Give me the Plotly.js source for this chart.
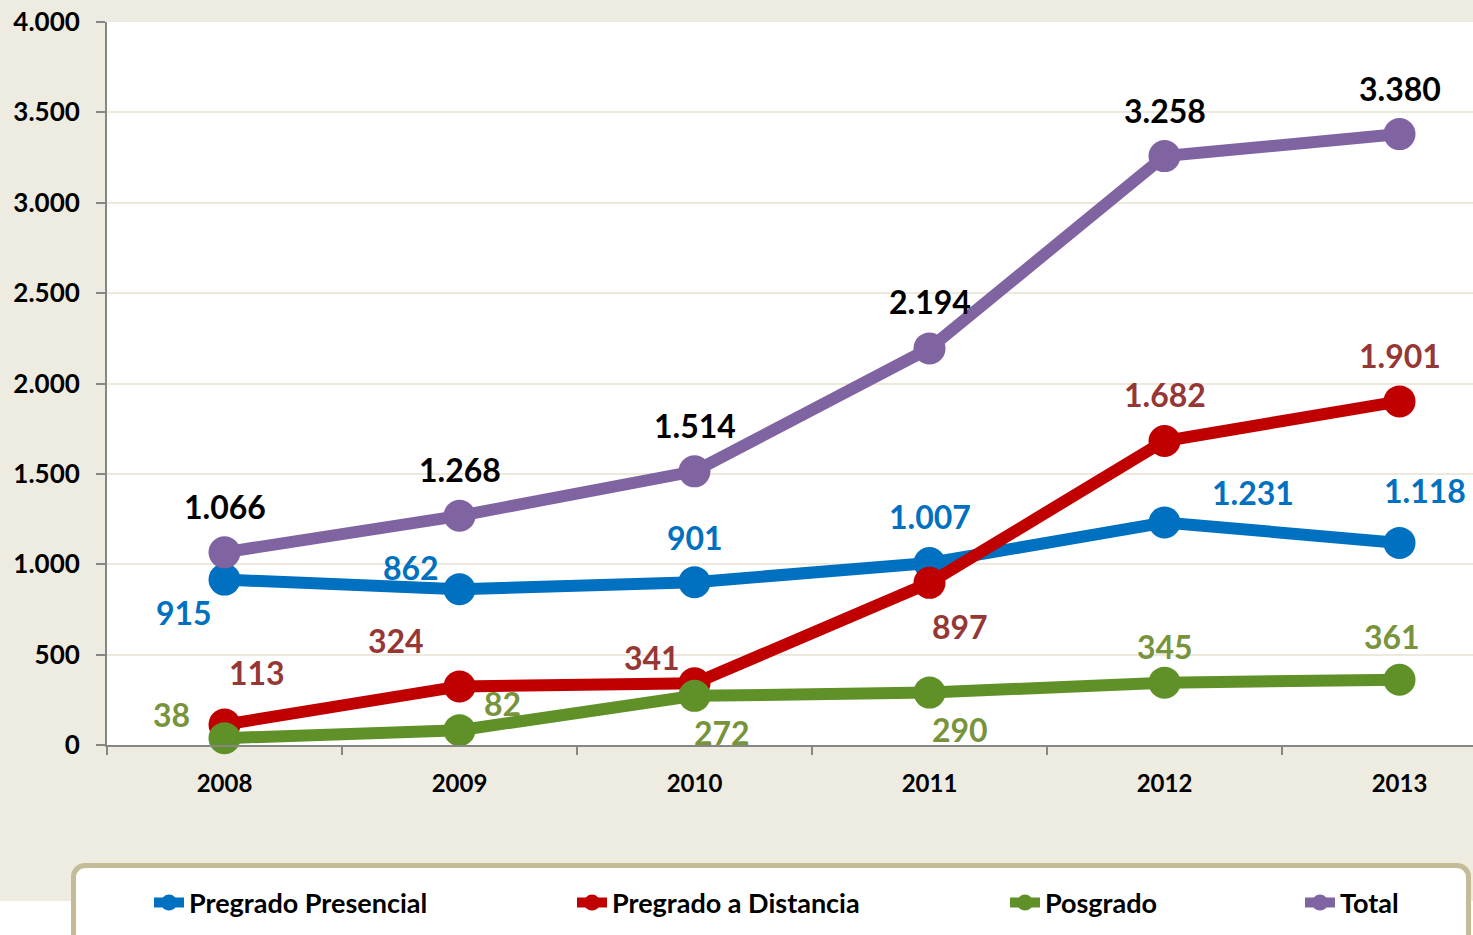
<!DOCTYPE html>
<html>
<head>
<meta charset="utf-8">
<script src="https://cdn.plot.ly/plotly-3.0.1.min.js"></script>
<style>
  html, body { margin: 0; padding: 0; background: #ffffff; }
  #wrap { position: relative; width: 1473px; height: 935px; overflow: hidden;
          background: linear-gradient(to bottom, #EEEBE0 0px, #EEEBE0 901px, #ffffff 901px); }
  #legbox { position: absolute; left: 71px; top: 863px; width: 1390px; height: 110px;
            border: 5px solid #C4BC97; border-radius: 14px; background: #ffffff; z-index: 1; }
  #chart { position: absolute; left: 0; top: 0; width: 1473px; height: 935px; z-index: 2; }
</style>
</head>
<body>
<div id="wrap">
  <div id="legbox"></div>
  <div id="chart"></div>
</div>
<script>
// ---- data ----
const years = ['2008', '2009', '2010', '2011', '2012', '2013'];
const presencial = [915, 862, 901, 1007, 1231, 1118];
const distancia = [113, 324, 341, 897, 1682, 1901];
const posgrado = [38, 82, 272, 290, 345, 361];
const total = [1066, 1268, 1514, 2194, 3258, 3380];
const seriesNames = ['Pregrado Presencial', 'Pregrado a Distancia', 'Posgrado', 'Total'];

// ---- styling / label placement (pixels) ----
const lineColors = ['#0070C0', '#C00000', '#5F9128', '#8064A2'];
const labelColors = ['#0070C0', '#953735', '#77933C', '#000000'];
const labelDX = [
  [-41, -49, 0, 0, 88, 25],
  [32, -64, -43, 30, 0, 0],
  [-53, 43, 27, 30, 0, -8],
  [0, 0, 0, 0, 0, 0]
];
const labelDY = [
  [-33, 22, 45, 46, 30, 52],
  [52, 46, 26, -44, 46, 46],
  [24, 27, -37, -37, 36, 43],
  [46, 46, 46, 47, 46, 46]
];
const legendTextX = [189, 612, 1045, 1340];

const allSeries = [presencial, distancia, posgrado, total];
const FONT = 'Lato, "Open Sans", sans-serif';

function fmt(v) {
  return String(v).replace(/\B(?=(\d{3})+(?!\d))/g, '.');
}

const L = 107, T = 22, W = 1473 - 107, H = 745 - 22;
const legendKeys = ['legend', 'legend2', 'legend3', 'legend4'];

const traces = allSeries.map((vals, i) => ({
  type: 'scatter',
  mode: 'lines+markers',
  x: years,
  y: vals,
  name: seriesNames[i],
  legend: legendKeys[i],
  line: { color: lineColors[i], width: 12 },
  marker: { color: lineColors[i], size: 32 },
  cliponaxis: false,
  hoverinfo: 'skip'
}));

const annotations = [];
allSeries.forEach((vals, i) => {
  vals.forEach((v, j) => {
    annotations.push({
      x: j, y: v, xref: 'x', yref: 'y',
      text: fmt(v), showarrow: false,
      xanchor: 'center', yanchor: 'middle',
      xshift: labelDX[i][j], yshift: labelDY[i][j],
      font: { family: FONT, size: 32, color: labelColors[i], weight: 'bold' }
    });
  });
});

const layout = {
  width: 1473, height: 935,
  margin: { l: L, r: 0, t: T, b: 935 - 745, pad: 0 },
  paper_bgcolor: 'rgba(0,0,0,0)',
  plot_bgcolor: '#ffffff',
  separators: ',.',
  showlegend: true,
  font: { family: FONT, size: 24, color: '#000000', weight: 'bold' },
  xaxis: {
    type: 'category',
    range: [-0.5, -0.5 + W / 235],
    tickson: 'boundaries',
    ticks: 'outside', ticklen: 8, tickwidth: 2, tickcolor: '#868686',
    showline: true, linecolor: '#868686', linewidth: 2,
    showgrid: false, zeroline: false,
    ticklabelstandoff: 16,
    tickfont: { family: FONT, size: 24, color: '#000000', weight: 'bold' },
    fixedrange: true
  },
  yaxis: {
    range: [0, 4000], dtick: 500, tick0: 0,
    tickformat: ',d', separatethousands: true,
    ticks: 'outside', ticklen: 9, tickwidth: 2, tickcolor: '#868686',
    showline: true, linecolor: '#868686', linewidth: 2,
    showgrid: true, gridcolor: '#EDE9DC', gridwidth: 2,
    zeroline: false,
    ticklabelstandoff: 11,
    tickfont: { family: FONT, size: 26, color: '#000000', weight: 'bold' },
    fixedrange: true
  },
  annotations: annotations
};

legendKeys.forEach((k, i) => {
  layout[k] = {
    x: (legendTextX[i] - 40 - L) / W,
    y: (745 - 903) / H,
    xanchor: 'left', yanchor: 'middle',
    orientation: 'h',
    bgcolor: 'rgba(0,0,0,0)', borderwidth: 0,
    font: { family: FONT, size: 27, color: '#000000', weight: 'bold' }
  };
});

Plotly.newPlot('chart', traces, layout, { staticPlot: true, displayModeBar: false });
</script>
</body>
</html>
